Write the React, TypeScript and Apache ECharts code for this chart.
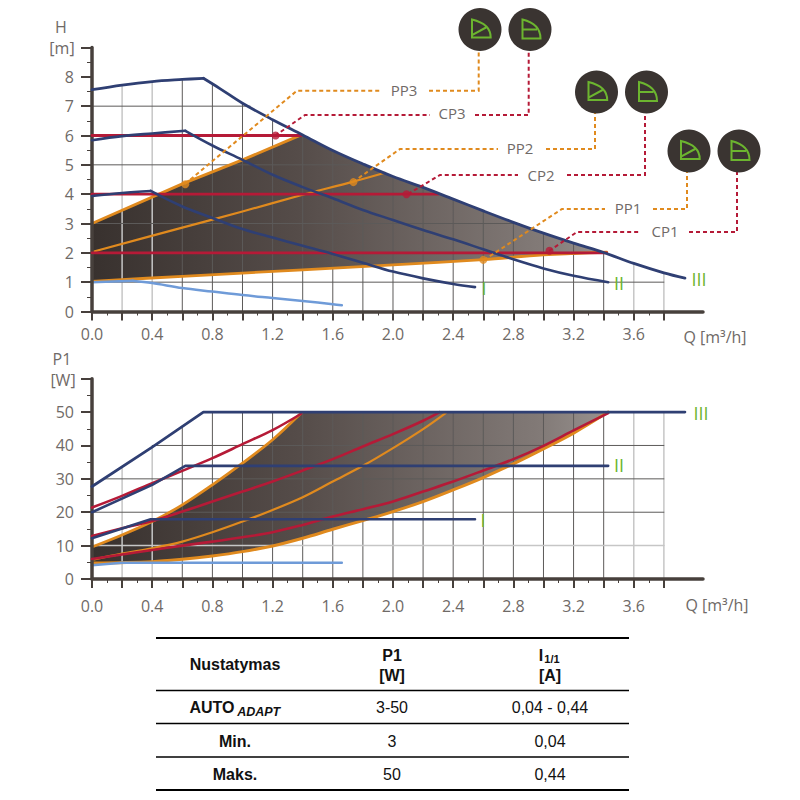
import { useEffect, useRef } from 'react'
import * as echarts from 'echarts'

// H chart, each curve as [Q, H]. The pump curves have a knee, so rise and fall are kept apart
const riseH3 = [[0, 7.56], [0.2, 7.72], [0.4, 7.84], [0.6, 7.91], [0.74, 7.95]]
const fallH3 = [[0.74, 7.95], [0.85, 7.6], [1.0, 7.1], [1.2, 6.54], [1.4, 6.02], [1.6, 5.49], [1.8, 5.03], [2.0, 4.6], [2.2, 4.23], [2.4, 3.83], [2.6, 3.43], [2.8, 3.04], [3.0, 2.67], [3.2, 2.33], [3.4, 2.01], [3.6, 1.64], [3.8, 1.32], [3.94, 1.14]]
const riseH2 = [[0, 5.84], [0.2, 5.98], [0.4, 6.07], [0.62, 6.16]]
const fallH2 = [[0.62, 6.16], [0.8, 5.66], [1.0, 5.17], [1.2, 4.66], [1.4, 4.24], [1.6, 3.86], [1.8, 3.46], [2.0, 3.12], [2.2, 2.78], [2.4, 2.46], [2.6, 2.12], [2.8, 1.78], [3.0, 1.47], [3.2, 1.22], [3.43, 1.0]]
const riseH1 = [[0, 3.94], [0.2, 4.04], [0.39, 4.11]]
const fallH1 = [[0.39, 4.11], [0.6, 3.58], [0.8, 3.19], [1.0, 2.81], [1.2, 2.52], [1.4, 2.24], [1.6, 1.96], [1.8, 1.66], [2.0, 1.36], [2.2, 1.13], [2.4, 0.94], [2.545, 0.83]]
const riseHMin = [[0, 1.0], [0.27, 1.05]]
const fallHMin = [[0.27, 1.05], [0.4, 0.97], [0.6, 0.8], [0.8, 0.68], [1.0, 0.56], [1.2, 0.46], [1.4, 0.36], [1.6, 0.25], [1.66, 0.21]]
const pp3H = [[0, 3.0], [0.6, 4.35], [1.0, 5.17], [1.39, 6.02]]
const pp2H = [[0, 2.03], [0.6, 2.86], [1.0, 3.41], [1.4, 3.98], [1.73, 4.42], [1.947, 4.73]]
const pp1H = [[0, 1.03], [0.6, 1.2], [1.4, 1.42], [2.0, 1.59], [2.6, 1.77], [3.0, 1.93], [3.42, 2.02]]
const cp3H = [[0, 6], [1.39, 6]]
const cp2H = [[0, 4], [2.3, 4]]
const cp1H = [[0, 2], [3.42, 2]]
const orangeDotsH = [[0.62, 4.34], [1.737, 4.41], [2.6, 1.76]]
const redDotsH = [[1.22, 6], [2.09, 4], [3.04, 2.07]]

// P1 chart, each curve as [Q, P1]
const curveP3 = [[0, 27.7], [0.4, 39.5], [0.74, 50], [3.94, 50]]
const curveP2 = [[0, 20], [0.4, 28.2], [0.62, 33.9], [3.43, 33.9]]
const curveP1 = [[0, 12.2], [0.39, 17.9], [2.545, 17.9]]
const curvePMin = [[0, 4.1], [0.2, 4.9], [1.66, 4.9]]
const pp3P = [[0, 9.6], [0.2, 13.2], [0.4, 17.2], [0.6, 22.2], [0.8, 28.2], [1.0, 34.7], [1.2, 41.7], [1.39, 49.7]]
const pp2P = [[0, 5.7], [0.2, 7.6], [0.4, 9.2], [0.6, 11.2], [0.8, 14.0], [1.0, 17.2], [1.2, 20.7], [1.4, 24.5], [1.6, 29.2], [1.8, 33.9], [2.0, 39.2], [2.2, 44.9], [2.35, 49.7]]
const pp1P = [[0, 4.8], [0.4, 5.2], [0.6, 5.9], [0.8, 6.9], [1.0, 8.2], [1.2, 9.9], [1.4, 12.2], [1.6, 14.9], [1.8, 17.5], [2.0, 20.2], [2.2, 23.2], [2.4, 26.7], [2.6, 30.4], [2.8, 34.5], [3.0, 39], [3.2, 43.7], [3.43, 50]]
const cp3P = [[0, 21.4], [0.2, 24.9], [0.4, 28.7], [0.6, 32.4], [0.8, 36.2], [1.0, 40.4], [1.2, 44.6], [1.39, 49.5]]
const cp2P = [[0, 12.9], [0.2, 15.2], [0.4, 17.4], [0.6, 20.2], [0.8, 23.2], [1.0, 26.2], [1.2, 29.2], [1.4, 32.5], [1.6, 35.9], [1.8, 39.7], [2.0, 43.4], [2.2, 47.4], [2.31, 50]]
const cp1P = [[0, 6], [0.4, 8.7], [0.6, 10], [0.8, 11.2], [1.0, 12.5], [1.2, 14], [1.4, 16.2], [1.6, 18.7], [1.8, 20.9], [2.0, 23.2], [2.2, 26.2], [2.4, 29.2], [2.6, 32.5], [2.8, 35.9], [3.0, 39.9], [3.2, 44.5], [3.43, 49.7]]

// grid lines stop at the outer curve, so each one has its own end
const vGridH = [[0.2, 7.72], [0.4, 7.84], [0.6, 7.91], [0.8, 7.75], [1.0, 7.1], [1.2, 6.54], [1.4, 6.02], [1.6, 5.49], [1.8, 5.03], [2.0, 4.6], [2.2, 4.23], [2.4, 3.83], [2.6, 3.43], [2.8, 3.04], [3.0, 2.67], [3.2, 2.33], [3.4, 2.01], [3.6, 1.64], [3.8, 1.32]]
const hGridH = [[1, 3.8], [2, 3.42], [3, 2.84], [4, 2.3], [5, 1.73], [6, 1.39], [7, 1.05]]
const vGridP = [[0.2, 33.5], [0.4, 39.5], [0.6, 45.8], [0.8, 50], [1.0, 50], [1.2, 50], [1.4, 50], [1.6, 50], [1.8, 50], [2.0, 50], [2.2, 50], [2.4, 50], [2.6, 50], [2.8, 50], [3.0, 50], [3.2, 50], [3.4, 50], [3.6, 50], [3.8, 50]]
const hGridP = [[10, 0, 3.8], [20, 0, 3.8], [30, 0.08, 3.8], [40, 0.4, 3.8]]
const lightV = [0.2, 0.4, 3.6, 3.8]

const qMajor = [0, 0.2, 0.4, 0.6, 0.8, 1.0, 1.2, 1.4, 1.6, 1.8, 2.0, 2.2, 2.4, 2.6, 2.8, 3.0, 3.2, 3.4, 3.6, 3.8]
const qMinor = [0.1, 0.3, 0.5, 0.7, 0.9, 1.1, 1.3, 1.5, 1.7, 1.9, 2.1, 2.3, 2.5, 2.7, 2.9, 3.1, 3.3, 3.5, 3.7]
const qLabels = [0, 0.4, 0.8, 1.2, 1.6, 2.0, 2.4, 2.8, 3.2, 3.6]
const hMajor = [0, 1, 2, 3, 4, 5, 6, 7, 8, 9]
const hMinor = [0.5, 1.5, 2.5, 3.5, 4.5, 5.5, 6.5, 7.5, 8.5]
const hLabels = [0, 1, 2, 3, 4, 5, 6, 7, 8]
const pMajor = [0, 10, 20, 30, 40, 50, 60]
const pMinor = [5, 15, 25, 35, 45, 55]
const pLabels = [0, 10, 20, 30, 40, 50]

const tableHead = ['Nustatymas', 'P1', '[W]', 'I', '[A]']
const tableRows = [['Min.', '3', '0,04'], ['Maks.', '50', '0,44']]

const BLUE = '#2f3f73'
const ORANGE = '#e08a1e'
const RED = '#b51a37'
const SKY = '#6f9bd8'
const GREEN = '#6cb52f'
const AXIS = '#47403c'
const TEXT = '#6f6a67'
const DARK_GRID = '#5c5a59'
const LIGHT_GRID = '#c6c6c6'
const FONT = '"Open Sans", sans-serif'
const TABLE_FONT = '"Liberation Sans", Arial, sans-serif'

echarts.graphic.registerShape('iconPP', echarts.graphic.extendPath(
  'M-8 -10 L-8 8 L10.7 8 Q10.7 -5.6 -8 -10 Z M-8 5.7 L6 -2', {}))
echarts.graphic.registerShape('iconCP', echarts.graphic.extendPath(
  'M-7.5 -10 L-7.5 9 L10.5 9 Q10.5 -5.6 -7.5 -10 Z M-7.5 0 L7 0', {}))

function line(data: number[][], color: string, width: number, axis: number, z = 4, smooth: any = false) {
  return {
    type: 'line', data, xAxisIndex: axis, yAxisIndex: axis, z, silent: true, smooth,
    showSymbol: false, symbol: 'none', lineStyle: { color, width, cap: 'round', join: 'round' },
  }
}

function curve(data: number[][], color: string, width: number, axis: number, z = 4) {
  return line(data, color, width, axis, z, 0.35)
}

function dots(data: number[][], color: string) {
  return {
    type: 'scatter', data, xAxisIndex: 0, yAxisIndex: 0, z: 12, silent: true,
    symbolSize: 8, itemStyle: { color },
  }
}

// the shaded working field, filled with a left to right gradient
function field(points: number[][], axis: number) {
  return {
    type: 'custom', data: [0], xAxisIndex: axis, yAxisIndex: axis, z: 1, silent: true,
    renderItem: (_: any, api: any) => ({
      type: 'polygon',
      shape: { points: points.map(p => api.coord(p)) },
      style: {
        fill: new echarts.graphic.LinearGradient(0, 0, 1, 0, [
          { offset: 0, color: '#38312e' },
          { offset: 0.4, color: '#554c49' },
          { offset: 0.87, color: '#827a77' },
          { offset: 1, color: '#98928f' },
        ]),
      },
    }),
  }
}

function majorAxis(index: number, labels: number[], major: number[], other: any) {
  return {
    type: 'value', gridIndex: index, z: 5, splitLine: { show: false }, silent: true,
    axisLine: { show: true, onZero: false, lineStyle: { color: AXIS, width: 3.5 } },
    axisTick: { show: true, customValues: major, lineStyle: { color: AXIS, width: 2 } },
    axisLabel: { customValues: labels, color: TEXT, fontSize: 16, fontFamily: FONT },
    ...other,
  }
}

function minorAxis(index: number, minor: number[], length: number, other: any) {
  return {
    type: 'value', gridIndex: index, z: 5, splitLine: { show: false }, silent: true,
    axisLine: { show: false, onZero: false },
    axisTick: { show: true, customValues: minor, length, lineStyle: { color: AXIS, width: 1 } },
    axisLabel: { show: false },
    ...other,
  }
}

function label(text: string, x: number, y: number, extra: any = {}) {
  return {
    type: 'text', x, y, z: 20, silent: true,
    style: {
      text, fill: TEXT, fontSize: 15, fontFamily: FONT,
      align: 'center', verticalAlign: 'middle', ...extra,
    },
  }
}

function leader(points: number[][], stroke: string) {
  return {
    type: 'polyline', z: 10, silent: true, shape: { points },
    style: { stroke, lineWidth: 2, lineDash: [4, 3], fill: 'none' },
  }
}

function icon(shape: string, x: number, y: number) {
  return [
    { type: 'circle', z: 11, silent: true, shape: { cx: x, cy: y, r: 21.5 }, style: { fill: '#3a3431' } },
    { type: shape, z: 12, silent: true, x, y, style: { fill: 'none', stroke: GREEN, lineWidth: 2 } },
  ]
}

function rule(y: number, width: number) {
  return {
    type: 'line', z: 10, silent: true, shape: { x1: 156, y1: y, x2: 629, y2: y },
    style: { stroke: '#000', lineWidth: width },
  }
}

function cell(text: string, x: number, y: number, bold = false, extra: any = {}) {
  return label(text, x, y, {
    fill: '#111', fontFamily: TABLE_FONT, fontSize: 16, fontWeight: bold ? 'bold' : 'normal', ...extra,
  })
}

export default function App() {
  const chartRef = useRef<HTMLDivElement>(null)

  useEffect(() => {
    if (!chartRef.current) return
    const chart = echarts.init(chartRef.current, undefined, { renderer: 'svg' })

    const gridSeries = [
      ...vGridH.map(([q, top]) => line([[q, 0], [q, top]], lightV.includes(q) ? LIGHT_GRID : DARK_GRID, lightV.includes(q) ? 1.5 : 1, 0, 2)),
      ...hGridH.map(([h, end]) => line([[0, h], [end, h]], DARK_GRID, 1, 0, 2)),
      ...vGridP.map(([q, top]) => line([[q, 0], [q, top]], lightV.includes(q) ? LIGHT_GRID : DARK_GRID, lightV.includes(q) ? 1.5 : 1, 1, 2)),
      ...hGridP.map(([p, from, to]) => line([[from, p], [to, p]], p === 10 ? LIGHT_GRID : DARK_GRID, p === 10 ? 1.5 : 1, 1, 2)),
    ]

    const option: any = {
      animation: false,
      backgroundColor: '#fff',
      grid: [
        { left: 92, top: 47.5, width: 611, height: 264 },
        { left: 92, top: 378.7, width: 611, height: 200.3 },
      ],
      // 0,1 are the labelled axes of each chart, 2,3 only carry the short ticks
      xAxis: [
        majorAxis(0, qLabels, qMajor, {
          min: 0, max: 4.06, position: 'bottom',
          axisTick: { show: true, customValues: qMajor, length: 9, lineStyle: { color: AXIS, width: 2 } },
          axisLabel: { customValues: qLabels, color: TEXT, fontSize: 16, fontFamily: FONT, margin: 14, formatter: (v: number) => v.toFixed(1) },
        }),
        majorAxis(1, qLabels, qMajor, {
          min: 0, max: 4.06, position: 'bottom',
          axisTick: { show: true, customValues: qMajor, length: 9, lineStyle: { color: AXIS, width: 2 } },
          axisLabel: { customValues: qLabels, color: TEXT, fontSize: 16, fontFamily: FONT, margin: 19, formatter: (v: number) => v.toFixed(1) },
        }),
        minorAxis(0, qMinor, 4, { min: 0, max: 4.06, position: 'bottom' }),
        minorAxis(1, qMinor, 4, { min: 0, max: 4.06, position: 'bottom' }),
      ],
      yAxis: [
        majorAxis(0, hLabels, hMajor, {
          min: 0, max: 9, position: 'left',
          axisTick: { show: true, customValues: hMajor, length: 11, lineStyle: { color: AXIS, width: 2 } },
          axisLabel: { customValues: hLabels, color: TEXT, fontSize: 16, fontFamily: FONT, margin: 18 },
        }),
        majorAxis(1, pLabels, pMajor, {
          min: 0, max: 60, position: 'left',
          axisTick: { show: true, customValues: pMajor, length: 11, lineStyle: { color: AXIS, width: 2 } },
          axisLabel: { customValues: pLabels, color: TEXT, fontSize: 16, fontFamily: FONT, margin: 18 },
        }),
        minorAxis(0, hMinor, 5, { min: 0, max: 9, position: 'left' }),
        minorAxis(1, pMinor, 5, { min: 0, max: 60, position: 'left' }),
      ],
      series: [
        field([...pp3H, ...fallH3.filter(p => p[0] > 1.39 && p[0] <= 3.4), [3.42, 2.02], ...[...pp1H].reverse()], 0),
        field([...pp3P, [1.39, 50], [3.43, 50], ...[...pp1P].reverse()], 1),
        ...gridSeries,
        line(pp3H, ORANGE, 2.8, 0),
        curve(pp2H, ORANGE, 2.2, 0),
        curve(pp1H, ORANGE, 2.8, 0),
        line(riseHMin, SKY, 2.5, 0),
        curve(fallHMin, SKY, 2.5, 0),
        curve(riseH1, BLUE, 2.6, 0, 6),
        curve(fallH1, BLUE, 2.6, 0, 6),
        curve(riseH2, BLUE, 2.6, 0, 6),
        curve(fallH2, BLUE, 2.6, 0, 6),
        curve(riseH3, BLUE, 2.8, 0, 6),
        curve(fallH3, BLUE, 2.8, 0, 6),
        line(cp3H, RED, 2.8, 0, 5),
        line(cp2H, RED, 2.8, 0, 5),
        line(cp1H, RED, 2.8, 0, 5),
        dots(orangeDotsH, ORANGE),
        dots(redDotsH, RED),
        curve(pp1P, ORANGE, 3, 1),
        curve(pp2P, ORANGE, 2.2, 1),
        curve(pp3P, ORANGE, 2.8, 1),
        line(curvePMin, SKY, 2.5, 1),
        line(curveP1, BLUE, 2.6, 1, 6),
        line(curveP2, BLUE, 2.6, 1, 6),
        line(curveP3, BLUE, 2.8, 1, 6),
        curve(cp1P, RED, 2.6, 1, 5),
        curve(cp2P, RED, 2.6, 1, 5),
        curve(cp3P, RED, 2.6, 1, 5),
      ],
      graphic: [
        label('H', 61, 27, { fontSize: 16 }),
        label('[m]', 62, 48, { fontSize: 16 }),
        label('P1', 62, 359, { fontSize: 16 }),
        label('[W]', 63, 380, { fontSize: 16 }),
        label('Q [m³/h]', 715, 337, { fontSize: 16 }),
        label('Q [m³/h]', 717, 605, { fontSize: 16 }),

        leader([[185, 184], [297, 90.7], [381, 90.7]], ORANGE),
        leader([[429, 90.7], [478.7, 90.7], [478.7, 50]], ORANGE),
        leader([[275, 135.7], [305, 115], [430, 115]], RED),
        leader([[475, 115], [528.7, 115], [528.7, 50]], RED),
        leader([[353, 182], [400, 149], [498, 149]], ORANGE),
        leader([[546, 149], [595, 149], [595, 113]], ORANGE),
        leader([[408, 194], [440, 175], [518, 175]], RED),
        leader([[567, 175], [645, 175], [645, 113]], RED),
        leader([[484, 260], [562, 209], [605, 209]], ORANGE),
        leader([[653, 209], [687, 209], [687, 172]], ORANGE),
        leader([[549, 251], [577, 232], [641, 232]], RED),
        leader([[689, 232], [737, 232], [737, 172]], RED),

        label('PP3', 404, 90),
        label('CP3', 452, 113),
        label('PP2', 520, 148),
        label('CP2', 541, 175),
        label('PP1', 628, 208),
        label('CP1', 665, 231),

        ...icon('iconPP', 480, 29.5),
        ...icon('iconCP', 530, 29.5),
        ...icon('iconPP', 596.5, 92),
        ...icon('iconCP', 646.5, 92),
        ...icon('iconPP', 689, 151),
        ...icon('iconCP', 739, 151),

        label('I', 484, 288, { fill: GREEN, fontSize: 18 }),
        label('II', 619, 283, { fill: GREEN, fontSize: 18 }),
        label('III', 699, 279, { fill: GREEN, fontSize: 18 }),
        label('I', 483, 520, { fill: GREEN, fontSize: 18 }),
        label('II', 619, 465, { fill: GREEN, fontSize: 18 }),
        label('III', 701, 413, { fill: GREEN, fontSize: 18 }),

        rule(638, 2),
        rule(690.5, 1.5),
        rule(723.5, 1.5),
        rule(757, 1.5),
        rule(790, 2),
        cell(tableHead[0], 235, 664, true),
        cell(tableHead[1], 392, 655, true),
        cell(tableHead[2], 392, 675, true),
        cell(tableHead[3], 541, 655, true),
        cell('1/1', 552, 659, true, { fontSize: 11 }),
        cell(tableHead[4], 550, 675, true),
        cell('AUTO', 212, 707, true),
        cell('ADAPT', 258.7, 712, true, { fontSize: 12.5, fontStyle: 'italic' }),
        cell('3-50', 392, 707),
        cell('0,04 - 0,44', 550, 707),
        ...tableRows.flatMap((row, i) => [
          cell(row[0], 235, 741 + i * 33, true),
          cell(row[1], 392, 741 + i * 33),
          cell(row[2], 550, 741 + i * 33),
        ]),
      ],
    }

    chart.setOption(option)

    return () => {
      chart.dispose()
    }
  }, [])

  return <div ref={chartRef} style={{ position: 'fixed', left: 0, top: 0, width: 800, height: 800 }} />
}
